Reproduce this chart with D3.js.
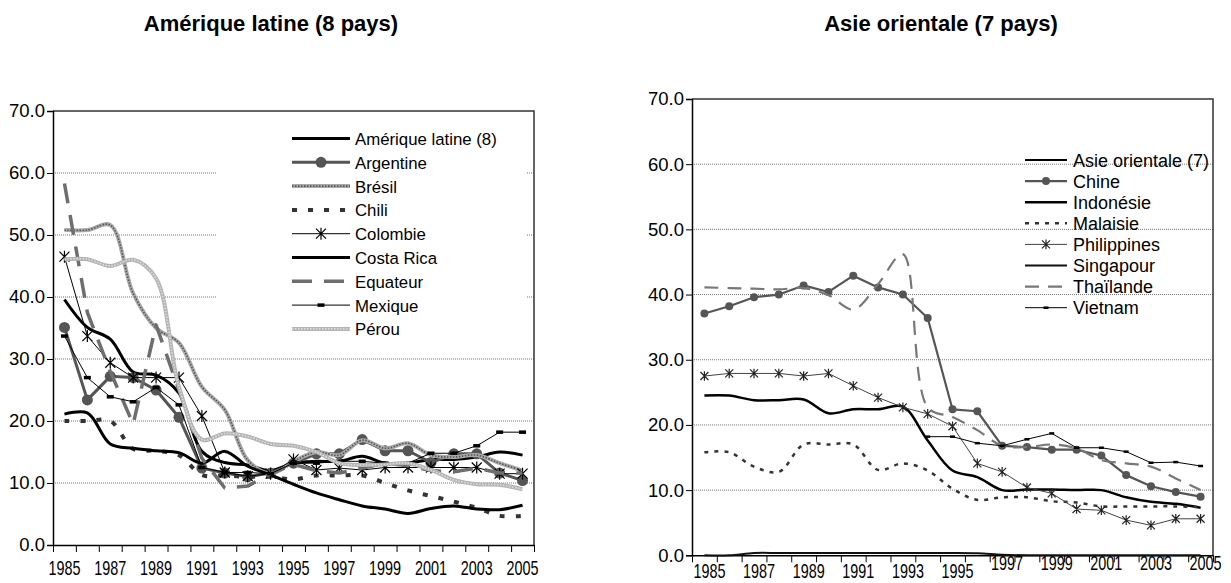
<!DOCTYPE html>
<html>
  <head>
    <meta charset="UTF-8">
    <title>Amérique latine / Asie orientale</title>
    <script src="https://d3js.org/d3.v7.min.js"></script>
    <style>
      body { margin: 0; background: #fff; }
      svg text { font-family: "Liberation Sans", Arial, sans-serif; fill: #000; }
      .xlab { font-size: 20px; }
    </style>
  </head>
  <body>
    <svg id="chart" width="1231" height="583"></svg>
    <script>
      const years = [1985, 1986, 1987, 1988, 1989, 1990, 1991, 1992, 1993, 1994, 1995,
                     1996, 1997, 1998, 1999, 2000, 2001, 2002, 2003, 2004, 2005];
      const yTicks = [0, 10, 20, 30, 40, 50, 60, 70];
      const yearLabels = [1985, 1987, 1989, 1991, 1993, 1995, 1997, 1999, 2001, 2003, 2005];

      // Amérique latine
      const latNames = ["Amérique latine (8)", "Argentine", "Brésil", "Chili", "Colombie",
                        "Costa Rica", "Equateur", "Mexique", "Pérou"];
      const ameriqueLatine = [39.6, 35.1, 33.2, 27.9, 27.4, 24.5, 15.1, 13.3, 12.9, 12.0, 13.2,
                              13.5, 13.5, 14.3, 13.2, 13.2, 13.8, 13.8, 14.2, 15.0, 14.5];
      const argentine = [35.1, 23.4, 27.2, 27.0, 25.0, 20.6, 12.4, 11.6, 11.0, 11.6, 13.2,
                         14.7, 14.7, 17.0, 15.2, 15.2, 13.3, 14.7, 14.7, 11.6, 10.4];
      const bresil = [50.8, 50.8, 51.6, 40.6, 35.0, 32.6, 25.5, 21.8, 13.7, 11.5, 13.5,
                      15.0, 14.5, 16.9, 15.6, 16.4, 14.5, 14.2, 14.5, 13.2, 12.0];
      const chili = [20.0, 20.0, 20.0, 15.5, 15.2, 14.5, 11.3, 11.2, 11.0, 11.0, 10.6,
                     11.2, 11.2, 11.2, 10.0, 8.8, 7.9, 7.0, 6.0, 4.7, 4.7];
      const colombie = [46.5, 33.7, 29.4, 27.0, 27.0, 27.0, 20.8, 11.7, 11.1, 11.5, 13.8,
                        12.1, 12.4, 12.1, 12.5, 12.5, 12.5, 12.5, 12.5, 11.5, 11.5];
      const costaRica = [21.1, 21.3, 16.3, 15.6, 15.2, 14.9, 13.2, 15.1, 12.7, 11.3, 9.8,
                         8.4, 7.3, 6.3, 5.8, 5.1, 5.9, 6.3, 5.8, 5.7, 6.4];
      const equateur = [58.3, 37.5, 28.0, 19.5, 35.5, 25.0, 14.0, 9.2, 9.5, 11.5, 13.0,
                        12.0, 11.6, 12.4, 13.2, 12.8, 12.0, 11.8, 12.4, 11.6, 11.6];
      const mexique = [33.7, 27.0, 23.9, 23.1, 25.4, 22.6, 12.5, 11.7, 11.7, 11.5, 13.2,
                       13.2, 13.5, 13.5, 13.2, 13.2, 14.8, 14.8, 16.0, 18.2, 18.2];
      const perou = [46.1, 46.1, 45.0, 46.0, 43.0, 25.5, 17.0, 18.0, 17.5, 16.3, 16.0,
                     15.0, 13.2, 12.9, 13.0, 13.2, 12.1, 10.5, 9.8, 9.7, 9.0];

      // Asie orientale
      const asiaNames = ["Asie orientale (7)", "Chine", "Indonésie", "Malaisie", "Philippines",
                         "Singapour", "Thaïlande", "Vietnam"];
      const asieOrientale = years.map(() => null);
      const chine = [37.1, 38.2, 39.6, 40.0, 41.4, 40.4, 42.9, 41.1, 40.0, 36.4, 22.4,
                     22.1, 16.8, 16.6, 16.2, 16.2, 15.3, 12.3, 10.6, 9.7, 9.0];
      const indonesie = [24.5, 24.5, 23.8, 23.8, 23.9, 21.8, 22.4, 22.4, 22.8, 17.6, 13.0,
                         12.0, 10.0, 10.1, 10.1, 10.0, 10.0, 8.9, 8.2, 7.9, 7.3];
      const malaisie = [15.8, 15.8, 13.6, 12.8, 17.0, 17.0, 17.0, 13.1, 14.1, 13.0, 10.2,
                        8.5, 8.9, 8.9, 8.3, 8.1, 7.5, 7.5, 7.5, 7.5, 7.4];
      const philippines = [27.5, 27.9, 27.9, 27.9, 27.5, 27.9, 26.0, 24.2, 22.7, 21.7, 19.8,
                           14.1, 12.8, 10.4, 9.5, 7.1, 6.9, 5.4, 4.6, 5.6, 5.6];
      const singapour = [0.0, 0.0, 0.35, 0.35, 0.35, 0.35, 0.35, 0.35, 0.35, 0.35, 0.35,
                         0.3, 0.1, 0.0, 0.0, 0.0, 0.0, 0.0, 0.0, 0.0, 0.0];
      const thailande = [41.1, 41.0, 40.9, 40.8, 41.0, 39.9, 37.7, 41.6, 46.2, 22.7, 21.2,
                         19.2, 16.8, 16.6, 17.0, 16.4, 14.6, 14.1, 13.6, 11.8, 10.0];
      const vietnam = [null, null, null, null, null, null, null, null, null, 18.2, 18.2,
                       17.2, 16.8, 17.8, 18.7, 16.5, 16.5, 15.9, 14.2, 14.3, 13.7];

      const svg = d3.select("#chart");

      const asterisk = s => `M${-s},${-s}L${s},${s}M${-s},${s}L${s},${-s}M0,${-s * 1.2}L0,${s * 1.2}`;

      function drawPanel(cfg) {
        const x = d3.scaleBand().domain(years).range([cfg.left, cfg.right]);
        const xt = d3.scaleLinear().domain([0, years.length]).range([cfg.left, cfg.right]);
        const y = d3.scaleLinear().domain([0, 70]).range([cfg.bottom, cfg.top]);
        const cx = d => x(d) + x.bandwidth() / 2;
        const g = svg.append("g");

        // gridlines
        g.selectAll(".grid").data(yTicks.slice(1, -1)).join("line")
          .attr("x1", cfg.left).attr("x2", cfg.right)
          .attr("y1", d => y(d)).attr("y2", d => y(d))
          .attr("stroke", "#777").attr("stroke-width", 1).attr("stroke-dasharray", "1,1");

        if (cfg.legendBox) {
          g.append("rect")
            .attr("x", cfg.legendBox[0]).attr("y", cfg.legendBox[1])
            .attr("width", cfg.legendBox[2]).attr("height", cfg.legendBox[3])
            .attr("fill", "#fff");
        }

        // frame: top and right
        g.append("path")
          .attr("d", `M${cfg.left},${cfg.top}H${cfg.right}V${cfg.bottom}`)
          .attr("fill", "none").attr("stroke", "#333").attr("stroke-width", 1.5);

        // y axis
        const ya = g.append("g").attr("transform", `translate(${cfg.left},0)`)
          .call(d3.axisLeft(y).tickValues(yTicks).tickFormat(d3.format(".1f")).tickSize(6).tickPadding(2));
        ya.select(".domain").attr("stroke", "#000").attr("stroke-width", 1.5);
        ya.selectAll("text").style("font-size", "18.5px").attr("font-family", null);
        ya.selectAll(".tick line").attr("stroke", "#000");

        // x axis
        const xa = g.append("g").attr("transform", `translate(0,${cfg.bottom})`)
          .call(d3.axisBottom(xt).tickValues(d3.range(0, years.length + 1)).tickFormat("").tickSize(7).tickSizeOuter(0));
        xa.select(".domain").attr("stroke", "#000").attr("stroke-width", 1.5);
        xa.selectAll(".tick line").attr("stroke", "#000");

        // condensed year labels
        g.selectAll(".xlab").data(yearLabels).join("text")
          .attr("class", "xlab")
          .attr("text-anchor", "middle")
          .attr("transform", d => `translate(${cx(d) + cfg.labelDx},${cfg.labelY(d)}) scale(0.72,1)`)
          .text(d => d);

        // series
        cfg.series.forEach(s => {
          const pts = years.map((yr, i) => ({ yr, v: s.values[i] })).filter(p => p.v != null);
          const line = d3.line().x(p => cx(p.yr)).y(p => y(p.v))
            .curve(s.smooth ? d3.curveCatmullRom.alpha(0.5) : d3.curveLinear);
          s.strokes.forEach(st => {
            g.append("path").datum(pts).attr("d", line)
              .attr("fill", "none").attr("stroke", st.c).attr("stroke-width", st.w)
              .attr("stroke-dasharray", st.dash || null).attr("stroke-linejoin", "round");
          });
          if (s.marker) drawMarkers(g, s.marker, pts.map(p => [cx(p.yr), y(p.v)]));
        });

        // legend
        const lg = g.append("g");
        cfg.series.forEach((s, i) => {
          const ly = cfg.legend.y0 + i * cfg.legend.dy;
          s.strokes.forEach(st => {
            lg.append("line").attr("x1", cfg.legend.x0).attr("x2", cfg.legend.x1)
              .attr("y1", ly).attr("y2", ly)
              .attr("stroke", st.c).attr("stroke-width", st.w).attr("stroke-dasharray", st.dash || null);
          });
          if (s.marker) drawMarkers(lg, s.marker, [[(cfg.legend.x0 + cfg.legend.x1) / 2, ly]]);
          lg.append("text").attr("x", cfg.legend.tx).attr("y", ly + 6.5)
            .style("font-size", cfg.legend.fs + "px")
            .text(s.name);
        });

        // title
        g.append("text").attr("x", cfg.titleX).attr("y", 31).attr("text-anchor", "middle")
          .style("font-size", "22px").style("font-weight", "bold").text(cfg.title);
      }

      function drawMarkers(g, m, pts) {
        pts.forEach(([px, py]) => {
          if (m.type === "circle") {
            g.append("circle").attr("cx", px).attr("cy", py).attr("r", m.r).attr("fill", m.c);
          } else if (m.type === "asterisk") {
            g.append("path").attr("transform", `translate(${px},${py})`).attr("d", asterisk(m.s))
              .attr("stroke", m.c).attr("stroke-width", 1.2).attr("fill", "none");
          } else if (m.type === "rect") {
            g.append("rect").attr("x", px - m.w / 2).attr("y", py - m.h / 2)
              .attr("width", m.w).attr("height", m.h).attr("fill", m.c);
          }
        });
      }

      drawPanel({
        left: 53, right: 534, top: 111, bottom: 545,
        title: "Amérique latine (8 pays)", titleX: 271,
        labelDx: 0, labelY: () => 575,
        legendBox: [217, 112, 310, 234],
        legend: { x0: 292, x1: 350, tx: 355, y0: 138.5, dy: 23.8, fs: 16.8 },
        series: [
          { name: latNames[0], values: ameriqueLatine, smooth: true, strokes: [{ c: "#000", w: 3 }] },
          { name: latNames[1], values: argentine, strokes: [{ c: "#555", w: 3 }],
            marker: { type: "circle", r: 5.5, c: "#555" } },
          { name: latNames[2], values: bresil, smooth: true,
            strokes: [{ c: "#aaa", w: 4 }, { c: "#555", w: 1.6, dash: "1.5,1.5" }] },
          { name: latNames[3], values: chili, smooth: true, strokes: [{ c: "#333", w: 4, dash: "5,11" }] },
          { name: latNames[4], values: colombie, strokes: [{ c: "#000", w: 1 }],
            marker: { type: "asterisk", s: 5, c: "#000" } },
          { name: latNames[5], values: costaRica, smooth: true, strokes: [{ c: "#000", w: 3 }] },
          { name: latNames[6], values: equateur, strokes: [{ c: "#6e6e6e", w: 3.5, dash: "20,12" }] },
          { name: latNames[7], values: mexique, strokes: [{ c: "#000", w: 1 }],
            marker: { type: "rect", w: 7, h: 3.5, c: "#000" } },
          { name: latNames[8], values: perou, smooth: true,
            strokes: [{ c: "#b4b4b4", w: 4 }, { c: "#dcdcdc", w: 1.6, dash: "1.5,1.5" }] }
        ]
      });

      drawPanel({
        left: 692, right: 1213, top: 99, bottom: 555.3,
        title: "Asie orientale (7 pays)", titleX: 941,
        labelDx: 5, labelY: d => d <= 1995 ? 578 : 570,
        legend: { x0: 1025, x1: 1067, tx: 1073, y0: 160, dy: 21.1, fs: 18 },
        series: [
          { name: " " + asiaNames[0], values: asieOrientale, strokes: [{ c: "#000", w: 2 }] },
          { name: asiaNames[1], values: chine, strokes: [{ c: "#555", w: 2.2 }],
            marker: { type: "circle", r: 4, c: "#555" } },
          { name: asiaNames[2], values: indonesie, smooth: true, strokes: [{ c: "#000", w: 2.5 }] },
          { name: asiaNames[3], values: malaisie, smooth: true, strokes: [{ c: "#333", w: 2.5, dash: "4,6" }] },
          { name: asiaNames[4], values: philippines, strokes: [{ c: "#444", w: 1 }],
            marker: { type: "asterisk", s: 4, c: "#222" } },
          { name: asiaNames[5], values: singapour, smooth: true, strokes: [{ c: "#111", w: 2 }] },
          { name: asiaNames[6], values: thailande, smooth: true, strokes: [{ c: "#777", w: 2.2, dash: "14,9" }] },
          { name: asiaNames[7], values: vietnam, strokes: [{ c: "#000", w: 1 }],
            marker: { type: "rect", w: 5, h: 2.5, c: "#000" } }
        ]
      });
    </script>
  </body>
</html>
